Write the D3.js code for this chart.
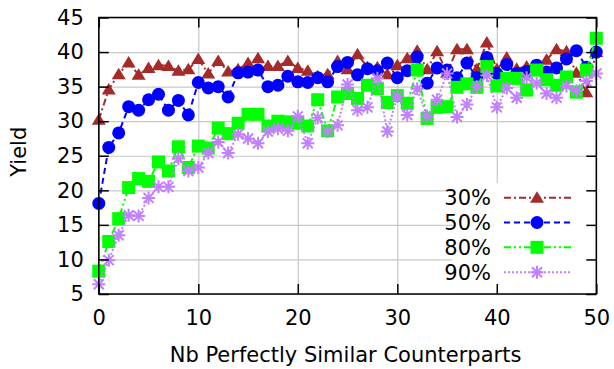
<!DOCTYPE html>
<html>
<head>
<meta charset="utf-8">
<script src="https://cdn.jsdelivr.net/npm/d3@7"></script>
<style>
  body { margin: 0; background: #fff; }
  svg { display: block; }
</style>
</head>
<body>
<script>
// Constants
const width = 614;
const height = 369;
const plotLeft = 98.8;
const plotRight = 596.3;
const plotTop = 17.5;
const plotBottom = 294;
const fontSize = '21px';

const xAxisLabel = 'Nb Perfectly Similar Counterparts';
const yAxisLabel = 'Yield';

// Data
const counts = [0, 1, 2, 3, 4, 5, 6, 7, 8, 9, 10, 11, 12, 13, 14, 15, 16, 17, 18, 19, 20,
  21, 22, 23, 24, 25, 26, 27, 28, 29, 30, 31, 32, 33, 34, 35, 36, 37, 38, 39, 40,
  41, 42, 43, 44, 45, 46, 47, 48, 49, 50];
const yield30 = [30.2, 34.6, 36.8, 38.5, 36.7, 37.7, 38.1, 38.0, 37.3, 37.5, 39.0,
  36.9, 38.7, 37.2, 37.5, 38.4, 39.1, 38.0, 38.0, 38.7, 37.7,
  37.3, 36.5, 36.8, 38.7, 37.5, 39.7, 37.8, 37.8, 36.8, 38.1,
  39.1, 40.2, 37.5, 40.1, 37.0, 40.4, 40.4, 37.5, 41.4, 37.5,
  39.2, 37.6, 37.9, 38.0, 38.9, 40.4, 40.1, 37.0, 34.2, 40.0];
const yield50 = [18.1, 26.2, 28.3, 32.1, 31.6, 33.1, 33.9, 31.6, 33.0, 30.9, 35.6,
  34.8, 35.0, 33.5, 37.0, 37.1, 37.4, 35.0, 35.2, 36.5, 35.7,
  35.6, 36.3, 35.7, 37.9, 38.5, 36.7, 37.6, 37.3, 38.4, 36.3,
  37.3, 39.3, 35.5, 37.7, 37.4, 36.3, 38.4, 36.3, 39.2, 36.9,
  38.2, 36.9, 37.2, 38.1, 37.1, 37.7, 39.0, 40.2, 37.8, 40.0];
const yield80 = [8.3, 12.6, 15.9, 20.4, 21.7, 21.3, 24.1, 22.8, 26.3, 23.3, 26.4,
  26.1, 29.0, 28.2, 29.7, 31.0, 31.0, 29.3, 30.0, 29.9, 29.7,
  29.3, 33.1, 28.6, 33.5, 34.0, 33.3, 35.2, 34.7, 32.7, 33.7,
  32.6, 37.4, 30.4, 32.0, 32.1, 34.9, 35.4, 34.9, 37.9, 35.1,
  36.2, 36.2, 34.5, 37.4, 36.0, 35.2, 36.4, 34.2, 37.4, 42.0];
const yield90 = [6.4, 9.9, 13.5, 16.4, 16.3, 18.9, 20.5, 20.5, 24.6, 22.8, 23.3,
  25.4, 27.0, 25.4, 28.1, 27.5, 26.8, 28.5, 28.9, 28.6, 30.7,
  26.8, 30.5, 28.5, 29.4, 35.3, 31.6, 32.0, 36.2, 28.5, 33.6,
  30.9, 34.7, 30.7, 33.1, 36.9, 30.6, 32.4, 35.0, 36.6, 32.0,
  34.8, 33.4, 36.3, 35.5, 34.0, 33.4, 35.1, 34.4, 35.8, 36.9];
const seriesNames = ['30%', '50%', '80%', '90%'];
const xTicks = [0, 10, 20, 30, 40, 50];
const yTicks = [5, 10, 15, 20, 25, 30, 35, 40, 45];

const seriesStyle = [
  { color: '#a52a2a', dash: '7,3,2,3', shape: 'triangle' },
  { color: '#0000ff', dash: '6,4', shape: 'circle' },
  { color: '#00ff00', dash: '7,3,2,3,2,3', shape: 'square' },
  { color: '#c080ff', dash: '2,2', shape: 'star' },
];
const seriesData = [yield30, yield50, yield80, yield90];

const svg = d3.select('body')
  .append('svg')
  .attr('width', width)
  .attr('height', height)
  .style('font-family', 'DejaVu Sans, sans-serif');

// Scales
const xScale = d3.scaleLinear().domain([0, 50]).range([plotLeft, plotRight]);
const yScale = d3.scaleLinear().domain([5, 45]).range([plotBottom, plotTop]);

// Grid
const gridX = svg.append('g')
  .attr('transform', `translate(0,${plotBottom})`)
  .call(d3.axisBottom(xScale).tickValues(xTicks).tickSize(-(plotBottom - plotTop)).tickFormat(''));
const gridY = svg.append('g')
  .attr('transform', `translate(${plotLeft},0)`)
  .call(d3.axisLeft(yScale).tickValues(yTicks).tickSize(-(plotRight - plotLeft)).tickFormat(''));
[gridX, gridY].forEach((g) => {
  g.select('.domain').remove();
  g.selectAll('line').attr('stroke', '#c8c8c8').attr('stroke-width', 1.2);
});

// Point markers
function drawMarker(g, shape, color) {
  if (shape === 'triangle') {
    g.append('path').attr('d', 'M0,-6.5L7,5L-7,5Z').attr('fill', color);
  } else if (shape === 'circle') {
    g.append('circle').attr('r', 6.5).attr('fill', color);
  } else if (shape === 'square') {
    g.append('rect').attr('x', -6.5).attr('y', -6.5).attr('width', 13).attr('height', 13).attr('fill', color);
  } else {
    g.append('path')
      .attr('d', 'M-6.5,0H6.5M0,-6.5V6.5M-5,-5L5,5M-5,5L5,-5')
      .attr('stroke', color)
      .attr('stroke-width', 2)
      .attr('fill', 'none');
  }
}

const line = d3.line()
  .x((d, i) => xScale(counts[i]))
  .y((d) => yScale(d));

seriesData.forEach((values, k) => {
  const st = seriesStyle[k];
  const g = svg.append('g');
  g.append('path')
    .attr('d', line(values))
    .attr('fill', 'none')
    .attr('stroke', st.color)
    .attr('stroke-width', 2)
    .attr('stroke-dasharray', st.dash);
  g.selectAll('.pt')
    .data(values)
    .join('g')
    .attr('class', 'pt')
    .attr('transform', (d, i) => `translate(${xScale(counts[i])},${yScale(d)})`)
    .each(function () { drawMarker(d3.select(this), st.shape, st.color); });
});

// Legend box (opaque)
svg.append('rect')
  .attr('x', 452)
  .attr('y', 183)
  .attr('width', plotRight - 452)
  .attr('height', 102)
  .attr('fill', '#fff');

// Border and ticks
const tickLen = 10;
const xAxisB = svg.append('g')
  .attr('transform', `translate(0,${plotBottom})`)
  .call(d3.axisBottom(xScale).tickValues(xTicks).tickSize(-tickLen).tickPadding(16));
const xAxisT = svg.append('g')
  .attr('transform', `translate(0,${plotTop})`)
  .call(d3.axisTop(xScale).tickValues(xTicks).tickSize(-tickLen).tickFormat(''));
const yAxisL = svg.append('g')
  .attr('transform', `translate(${plotLeft},0)`)
  .call(d3.axisLeft(yScale).tickValues(yTicks).tickSize(-tickLen).tickPadding(15));
const yAxisR = svg.append('g')
  .attr('transform', `translate(${plotRight},0)`)
  .call(d3.axisRight(yScale).tickValues(yTicks).tickSize(-tickLen).tickFormat(''));
[xAxisB, xAxisT, yAxisL, yAxisR].forEach((g) => {
  g.select('.domain').remove();
  g.selectAll('line').attr('stroke', '#000').attr('stroke-width', 1.5);
  g.selectAll('text')
    .attr('fill', '#000')
    .style('font-family', 'DejaVu Sans, sans-serif')
    .style('font-size', fontSize);
});

svg.append('rect')
  .attr('x', plotLeft)
  .attr('y', plotTop)
  .attr('width', plotRight - plotLeft)
  .attr('height', plotBottom - plotTop)
  .attr('fill', 'none')
  .attr('stroke', '#000')
  .attr('stroke-width', 1.5);

// Axis labels
svg.append('text')
  .attr('x', (plotLeft + plotRight) / 2 - 2)
  .attr('y', 362)
  .attr('text-anchor', 'middle')
  .attr('font-size', fontSize)
  .attr('fill', '#000')
  .text(xAxisLabel);

svg.append('text')
  .attr('transform', `translate(26,${(plotTop + plotBottom) / 2 - 4}) rotate(-90)`)
  .attr('text-anchor', 'middle')
  .attr('font-size', fontSize)
  .attr('fill', '#000')
  .text(yAxisLabel);

// Legend entries
const legendRows = [197.7, 222.5, 247.3, 272.2];
seriesNames.forEach((name, k) => {
  const st = seriesStyle[k];
  const row = svg.append('g').attr('transform', `translate(0,${legendRows[k]})`);
  row.append('text')
    .attr('x', 491)
    .attr('dy', '0.36em')
    .attr('text-anchor', 'end')
    .attr('font-size', fontSize)
    .attr('fill', '#000')
    .text(name);
  row.append('line')
    .attr('x1', 504)
    .attr('x2', 571)
    .attr('stroke', st.color)
    .attr('stroke-width', 2)
    .attr('stroke-dasharray', st.dash);
  const m = row.append('g').attr('transform', 'translate(537,0)');
  drawMarker(m, st.shape, st.color);
});
</script>
</body>
</html>
